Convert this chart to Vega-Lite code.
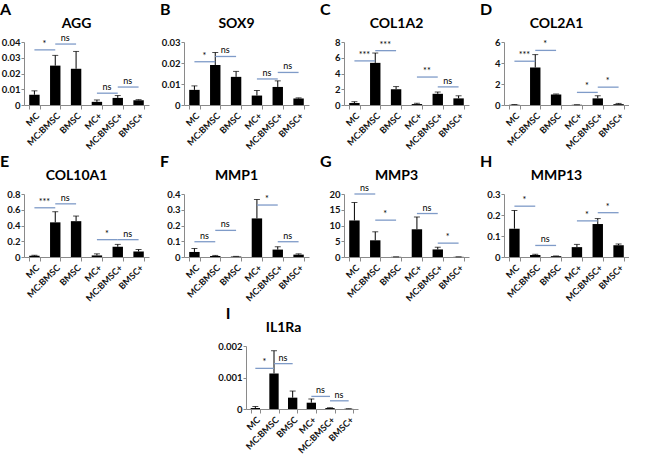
{
"$schema": "https://vega.github.io/schema/vega-lite/v6.json",
"padding": {"left": 0, "top": 2, "right": 0, "bottom": 0},
"background": "white",
"datasets": {
"bars": [
{"g":"AGG","c":"MC","y":0.0065,"e":0.009},{"g":"AGG","c":"MC:BMSC","y":0.025,"e":0.0315},{"g":"AGG","c":"BMSC","y":0.023,"e":0.034},{"g":"AGG","c":"MC+","y":0.002,"e":0.0032},{"g":"AGG","c":"MC:BMSC+","y":0.0045,"e":0.006},{"g":"AGG","c":"BMSC+","y":0.003,"e":0.0034},
{"g":"SOX9","c":"MC","y":0.0072,"e":0.0091},{"g":"SOX9","c":"MC:BMSC","y":0.019,"e":0.025},{"g":"SOX9","c":"BMSC","y":0.0134,"e":0.016},{"g":"SOX9","c":"MC+","y":0.0045,"e":0.0069},{"g":"SOX9","c":"MC:BMSC+","y":0.0086,"e":0.0115},{"g":"SOX9","c":"BMSC+","y":0.0031,"e":0.0034},
{"g":"COL1A2","c":"MC","y":0.25,"e":0.42},{"g":"COL1A2","c":"MC:BMSC","y":5.35,"e":6.6},{"g":"COL1A2","c":"BMSC","y":2.0,"e":2.34},{"g":"COL1A2","c":"MC+","y":0.12,"e":0.22},{"g":"COL1A2","c":"MC:BMSC+","y":1.42,"e":1.65},{"g":"COL1A2","c":"BMSC+","y":0.84,"e":1.17},
{"g":"COL2A1","c":"MC","y":0.03,"e":0.05},{"g":"COL2A1","c":"MC:BMSC","y":3.57,"e":4.8},{"g":"COL2A1","c":"BMSC","y":1.0,"e":1.05},{"g":"COL2A1","c":"MC+","y":0.02,"e":0.03},{"g":"COL2A1","c":"MC:BMSC+","y":0.63,"e":0.88},{"g":"COL2A1","c":"BMSC+","y":0.08,"e":0.15},
{"g":"COL10A1","c":"MC","y":0.015,"e":0.022},{"g":"COL10A1","c":"MC:BMSC","y":0.44,"e":0.575},{"g":"COL10A1","c":"BMSC","y":0.455,"e":0.52},{"g":"COL10A1","c":"MC+","y":0.02,"e":0.04},{"g":"COL10A1","c":"MC:BMSC+","y":0.13,"e":0.16},{"g":"COL10A1","c":"BMSC+","y":0.07,"e":0.095},
{"g":"MMP1","c":"MC","y":0.032,"e":0.054},{"g":"MMP1","c":"MC:BMSC","y":0.007,"e":0.01},{"g":"MMP1","c":"BMSC","y":0.003,"e":0.004},{"g":"MMP1","c":"MC+","y":0.245,"e":0.365},{"g":"MMP1","c":"MC:BMSC+","y":0.047,"e":0.065},{"g":"MMP1","c":"BMSC+","y":0.015,"e":0.02},
{"g":"MMP3","c":"MC","y":11.6,"e":17.3},{"g":"MMP3","c":"MC:BMSC","y":5.3,"e":8.0},{"g":"MMP3","c":"BMSC","y":0.05,"e":0.06},{"g":"MMP3","c":"MC+","y":8.8,"e":12.7},{"g":"MMP3","c":"MC:BMSC+","y":2.4,"e":3.1},{"g":"MMP3","c":"BMSC+","y":0.05,"e":0.06},
{"g":"MMP13","c":"MC","y":0.135,"e":0.222},{"g":"MMP13","c":"MC:BMSC","y":0.01,"e":0.013},{"g":"MMP13","c":"BMSC","y":0.004,"e":0.005},{"g":"MMP13","c":"MC+","y":0.047,"e":0.06},{"g":"MMP13","c":"MC:BMSC+","y":0.157,"e":0.183},{"g":"MMP13","c":"BMSC+","y":0.056,"e":0.062},
{"g":"IL1Ra","c":"MC","y":0.00003,"e":0.00008},{"g":"IL1Ra","c":"MC:BMSC","y":0.00113,"e":0.00185},{"g":"IL1Ra","c":"BMSC","y":0.00036,"e":0.00057},{"g":"IL1Ra","c":"MC+","y":0.0002,"e":0.00032},{"g":"IL1Ra","c":"MC:BMSC+","y":0.00003,"e":0.00004},{"g":"IL1Ra","c":"BMSC+","y":0.000005,"e":0.00001}
],
"sig": [
{"g":"AGG","c":"MC","c2":"MC:BMSC","y":0.035,"t":"*"},{"g":"AGG","c":"MC:BMSC","c2":"BMSC","y":0.0387,"t":"ns"},{"g":"AGG","c":"MC+","c2":"MC:BMSC+","y":0.0075,"t":"ns"},{"g":"AGG","c":"MC:BMSC+","c2":"BMSC+","y":0.0114,"t":"ns"},
{"g":"SOX9","c":"MC","c2":"MC:BMSC","y":0.0206,"t":"*"},{"g":"SOX9","c":"MC:BMSC","c2":"BMSC","y":0.0231,"t":"ns"},{"g":"SOX9","c":"MC+","c2":"MC:BMSC+","y":0.0124,"t":"ns"},{"g":"SOX9","c":"MC:BMSC+","c2":"BMSC+","y":0.0155,"t":"ns"},
{"g":"COL1A2","c":"MC","c2":"MC:BMSC","y":5.6,"t":"***"},{"g":"COL1A2","c":"MC:BMSC","c2":"BMSC","y":6.9,"t":"***"},{"g":"COL1A2","c":"MC+","c2":"MC:BMSC+","y":3.55,"t":"**"},{"g":"COL1A2","c":"MC:BMSC+","c2":"BMSC+","y":2.3,"t":"ns"},
{"g":"COL2A1","c":"MC","c2":"MC:BMSC","y":4.17,"t":"***"},{"g":"COL2A1","c":"MC:BMSC","c2":"BMSC","y":5.2,"t":"*"},{"g":"COL2A1","c":"MC+","c2":"MC:BMSC+","y":1.2,"t":"*"},{"g":"COL2A1","c":"MC:BMSC+","c2":"BMSC+","y":1.7,"t":"*"},
{"g":"COL10A1","c":"MC","c2":"MC:BMSC","y":0.625,"t":"***"},{"g":"COL10A1","c":"MC:BMSC","c2":"BMSC","y":0.675,"t":"ns"},{"g":"COL10A1","c":"MC+","c2":"MC:BMSC+","y":0.22,"t":"*"},{"g":"COL10A1","c":"MC:BMSC+","c2":"BMSC+","y":0.22,"t":"ns"},
{"g":"MMP1","c":"MC","c2":"MC:BMSC","y":0.097,"t":"ns"},{"g":"MMP1","c":"MC:BMSC","c2":"BMSC","y":0.169,"t":"ns"},{"g":"MMP1","c":"MC+","c2":"MC:BMSC+","y":0.33,"t":"*"},{"g":"MMP1","c":"MC:BMSC+","c2":"BMSC+","y":0.097,"t":"ns"},
{"g":"MMP3","c":"MC","c2":"MC:BMSC","y":20,"t":"ns"},{"g":"MMP3","c":"MC:BMSC","c2":"BMSC","y":11.7,"t":"*"},{"g":"MMP3","c":"MC+","c2":"MC:BMSC+","y":13.8,"t":"ns"},{"g":"MMP3","c":"MC:BMSC+","c2":"BMSC+","y":4.4,"t":"*"},
{"g":"MMP13","c":"MC","c2":"MC:BMSC","y":0.242,"t":"*"},{"g":"MMP13","c":"MC:BMSC","c2":"BMSC","y":0.055,"t":"ns"},{"g":"MMP13","c":"MC+","c2":"MC:BMSC+","y":0.172,"t":"*"},{"g":"MMP13","c":"MC:BMSC+","c2":"BMSC+","y":0.211,"t":"*"},
{"g":"IL1Ra","c":"MC","c2":"MC:BMSC","y":0.00129,"t":"*"},{"g":"IL1Ra","c":"MC:BMSC","c2":"BMSC","y":0.00144,"t":"ns"},{"g":"IL1Ra","c":"MC+","c2":"MC:BMSC+","y":0.0004,"t":"ns"},{"g":"IL1Ra","c":"MC:BMSC+","c2":"BMSC+","y":0.00026,"t":"ns"}
]
},
"config": {
"view": {"stroke": null},
"font": "Lato",
"title": {"font": "Lato", "fontWeight": "bold", "fontSize": 16, "anchor": "start", "offset": -2, "color": "#000"},
"axis": {"grid": false, "domainColor": "#8a8a8a", "tickColor": "#8a8a8a", "labelFont": "Lato", "labelFontWeight": "bold", "labelColor": "#111"},
"axisY": {"tickSize": 3, "labelFontSize": 9.5, "format": "~g", "labelPadding": 1, "minExtent": 24, "maxExtent": 24},
"axisX": {"labelAngle": -45, "labelFontSize": 9, "tickBand": "extent", "tickSize": 4, "labelPadding": 2},
"axisTop": {"labels": false, "ticks": false, "domain": false, "titleFont": "Lato", "titleFontSize": 14, "titleFontWeight": "bold", "titleColor": "#000", "titlePadding": 12, "titleX": 52},
"bar": {"color": "#000"},
"concat": {"spacing": 11}
},
"spacing": 3,
"vconcat": [
{"hconcat": [
{"title": {"text": "A"}, "width": 125, "height": 63, "resolve": {"axis": {"x": "independent"}},
 "encoding": {"x": {"field": "c", "type": "nominal", "scale": {"domain": ["MC","MC:BMSC","BMSC","MC+","MC:BMSC+","BMSC+"], "paddingInner": 0.5, "paddingOuter": 0.25}, "axis": null}},
 "layer": [
  {"data": {"name": "bars"}, "transform": [{"filter": "datum.g == 'AGG'"}], "mark": {"type": "bar"}, "encoding": {"x": {"field": "c", "type": "nominal", "scale": {"domain": ["MC","MC:BMSC","BMSC","MC+","MC:BMSC+","BMSC+"], "paddingInner": 0.5, "paddingOuter": 0.25}, "axis": {"title": null}}, "y": {"field": "y", "type": "quantitative", "scale": {"domain": [0, 0.04], "nice": false}, "axis": {"title": null, "values": [0, 0.01, 0.02, 0.03, 0.04]}}}},
  {"data": {"name": "bars"}, "transform": [{"filter": "datum.g == 'AGG'"}], "mark": {"type": "rule", "color": "#000"}, "encoding": {"y": {"field": "y", "type": "quantitative", "scale": {"domain": [0, 0.04], "nice": false}, "axis": {"title": null, "values": [0, 0.01, 0.02, 0.03, 0.04]}}, "y2": {"field": "e"}}},
  {"data": {"name": "bars"}, "transform": [{"filter": "datum.g == 'AGG'"}], "mark": {"type": "tick", "color": "#000", "thickness": 1, "size": 6}, "encoding": {"y": {"field": "e", "type": "quantitative", "scale": {"domain": [0, 0.04], "nice": false}, "axis": {"title": null, "values": [0, 0.01, 0.02, 0.03, 0.04]}}}},
  {"data": {"name": "sig"}, "transform": [{"filter": "datum.g == 'AGG'"}], "mark": {"type": "rule", "color": "#7F9BC8", "strokeWidth": 1.3}, "encoding": {"x2": {"field": "c2"}, "y": {"field": "y", "type": "quantitative", "scale": {"domain": [0, 0.04], "nice": false}, "axis": {"title": null, "values": [0, 0.01, 0.02, 0.03, 0.04]}}}},
  {"data": {"name": "sig"}, "transform": [{"filter": "datum.g == 'AGG'"}], "mark": {"type": "text", "dx": 10, "dy": -1, "baseline": "bottom", "fontSize": 9, "font": "Lato"}, "encoding": {"x": {"field": "c", "type": "nominal", "scale": {"domain": ["MC","MC:BMSC","BMSC","MC+","MC:BMSC+","BMSC+"], "paddingInner": 0.5, "paddingOuter": 0.25}, "axis": {"orient": "top", "title": "AGG"}}, "text": {"field": "t"}, "y": {"field": "y", "type": "quantitative", "scale": {"domain": [0, 0.04], "nice": false}, "axis": {"title": null, "values": [0, 0.01, 0.02, 0.03, 0.04]}}}}
 ]},
{"title": {"text": "B"}, "width": 125, "height": 63, "resolve": {"axis": {"x": "independent"}},
 "encoding": {"x": {"field": "c", "type": "nominal", "scale": {"domain": ["MC","MC:BMSC","BMSC","MC+","MC:BMSC+","BMSC+"], "paddingInner": 0.5, "paddingOuter": 0.25}, "axis": null}},
 "layer": [
  {"data": {"name": "bars"}, "transform": [{"filter": "datum.g == 'SOX9'"}], "mark": {"type": "bar"}, "encoding": {"x": {"field": "c", "type": "nominal", "scale": {"domain": ["MC","MC:BMSC","BMSC","MC+","MC:BMSC+","BMSC+"], "paddingInner": 0.5, "paddingOuter": 0.25}, "axis": {"title": null}}, "y": {"field": "y", "type": "quantitative", "scale": {"domain": [0, 0.03], "nice": false}, "axis": {"title": null, "values": [0, 0.01, 0.02, 0.03]}}}},
  {"data": {"name": "bars"}, "transform": [{"filter": "datum.g == 'SOX9'"}], "mark": {"type": "rule", "color": "#000"}, "encoding": {"y": {"field": "y", "type": "quantitative", "scale": {"domain": [0, 0.03], "nice": false}, "axis": {"title": null, "values": [0, 0.01, 0.02, 0.03]}}, "y2": {"field": "e"}}},
  {"data": {"name": "bars"}, "transform": [{"filter": "datum.g == 'SOX9'"}], "mark": {"type": "tick", "color": "#000", "thickness": 1, "size": 6}, "encoding": {"y": {"field": "e", "type": "quantitative", "scale": {"domain": [0, 0.03], "nice": false}, "axis": {"title": null, "values": [0, 0.01, 0.02, 0.03]}}}},
  {"data": {"name": "sig"}, "transform": [{"filter": "datum.g == 'SOX9'"}], "mark": {"type": "rule", "color": "#7F9BC8", "strokeWidth": 1.3}, "encoding": {"x2": {"field": "c2"}, "y": {"field": "y", "type": "quantitative", "scale": {"domain": [0, 0.03], "nice": false}, "axis": {"title": null, "values": [0, 0.01, 0.02, 0.03]}}}},
  {"data": {"name": "sig"}, "transform": [{"filter": "datum.g == 'SOX9'"}], "mark": {"type": "text", "dx": 10, "dy": -1, "baseline": "bottom", "fontSize": 9, "font": "Lato"}, "encoding": {"x": {"field": "c", "type": "nominal", "scale": {"domain": ["MC","MC:BMSC","BMSC","MC+","MC:BMSC+","BMSC+"], "paddingInner": 0.5, "paddingOuter": 0.25}, "axis": {"orient": "top", "title": "SOX9"}}, "text": {"field": "t"}, "y": {"field": "y", "type": "quantitative", "scale": {"domain": [0, 0.03], "nice": false}, "axis": {"title": null, "values": [0, 0.01, 0.02, 0.03]}}}}
 ]},
{"title": {"text": "C"}, "width": 125, "height": 63, "resolve": {"axis": {"x": "independent"}},
 "encoding": {"x": {"field": "c", "type": "nominal", "scale": {"domain": ["MC","MC:BMSC","BMSC","MC+","MC:BMSC+","BMSC+"], "paddingInner": 0.5, "paddingOuter": 0.25}, "axis": null}},
 "layer": [
  {"data": {"name": "bars"}, "transform": [{"filter": "datum.g == 'COL1A2'"}], "mark": {"type": "bar"}, "encoding": {"x": {"field": "c", "type": "nominal", "scale": {"domain": ["MC","MC:BMSC","BMSC","MC+","MC:BMSC+","BMSC+"], "paddingInner": 0.5, "paddingOuter": 0.25}, "axis": {"title": null}}, "y": {"field": "y", "type": "quantitative", "scale": {"domain": [0, 8], "nice": false}, "axis": {"title": null, "values": [0, 2, 4, 6, 8]}}}},
  {"data": {"name": "bars"}, "transform": [{"filter": "datum.g == 'COL1A2'"}], "mark": {"type": "rule", "color": "#000"}, "encoding": {"y": {"field": "y", "type": "quantitative", "scale": {"domain": [0, 8], "nice": false}, "axis": {"title": null, "values": [0, 2, 4, 6, 8]}}, "y2": {"field": "e"}}},
  {"data": {"name": "bars"}, "transform": [{"filter": "datum.g == 'COL1A2'"}], "mark": {"type": "tick", "color": "#000", "thickness": 1, "size": 6}, "encoding": {"y": {"field": "e", "type": "quantitative", "scale": {"domain": [0, 8], "nice": false}, "axis": {"title": null, "values": [0, 2, 4, 6, 8]}}}},
  {"data": {"name": "sig"}, "transform": [{"filter": "datum.g == 'COL1A2'"}], "mark": {"type": "rule", "color": "#7F9BC8", "strokeWidth": 1.3}, "encoding": {"x2": {"field": "c2"}, "y": {"field": "y", "type": "quantitative", "scale": {"domain": [0, 8], "nice": false}, "axis": {"title": null, "values": [0, 2, 4, 6, 8]}}}},
  {"data": {"name": "sig"}, "transform": [{"filter": "datum.g == 'COL1A2'"}], "mark": {"type": "text", "dx": 10, "dy": -1, "baseline": "bottom", "fontSize": 9, "font": "Lato"}, "encoding": {"x": {"field": "c", "type": "nominal", "scale": {"domain": ["MC","MC:BMSC","BMSC","MC+","MC:BMSC+","BMSC+"], "paddingInner": 0.5, "paddingOuter": 0.25}, "axis": {"orient": "top", "title": "COL1A2"}}, "text": {"field": "t"}, "y": {"field": "y", "type": "quantitative", "scale": {"domain": [0, 8], "nice": false}, "axis": {"title": null, "values": [0, 2, 4, 6, 8]}}}}
 ]},
{"title": {"text": "D"}, "width": 125, "height": 63, "resolve": {"axis": {"x": "independent"}},
 "encoding": {"x": {"field": "c", "type": "nominal", "scale": {"domain": ["MC","MC:BMSC","BMSC","MC+","MC:BMSC+","BMSC+"], "paddingInner": 0.5, "paddingOuter": 0.25}, "axis": null}},
 "layer": [
  {"data": {"name": "bars"}, "transform": [{"filter": "datum.g == 'COL2A1'"}], "mark": {"type": "bar"}, "encoding": {"x": {"field": "c", "type": "nominal", "scale": {"domain": ["MC","MC:BMSC","BMSC","MC+","MC:BMSC+","BMSC+"], "paddingInner": 0.5, "paddingOuter": 0.25}, "axis": {"title": null}}, "y": {"field": "y", "type": "quantitative", "scale": {"domain": [0, 6], "nice": false}, "axis": {"title": null, "values": [0, 2, 4, 6]}}}},
  {"data": {"name": "bars"}, "transform": [{"filter": "datum.g == 'COL2A1'"}], "mark": {"type": "rule", "color": "#000"}, "encoding": {"y": {"field": "y", "type": "quantitative", "scale": {"domain": [0, 6], "nice": false}, "axis": {"title": null, "values": [0, 2, 4, 6]}}, "y2": {"field": "e"}}},
  {"data": {"name": "bars"}, "transform": [{"filter": "datum.g == 'COL2A1'"}], "mark": {"type": "tick", "color": "#000", "thickness": 1, "size": 6}, "encoding": {"y": {"field": "e", "type": "quantitative", "scale": {"domain": [0, 6], "nice": false}, "axis": {"title": null, "values": [0, 2, 4, 6]}}}},
  {"data": {"name": "sig"}, "transform": [{"filter": "datum.g == 'COL2A1'"}], "mark": {"type": "rule", "color": "#7F9BC8", "strokeWidth": 1.3}, "encoding": {"x2": {"field": "c2"}, "y": {"field": "y", "type": "quantitative", "scale": {"domain": [0, 6], "nice": false}, "axis": {"title": null, "values": [0, 2, 4, 6]}}}},
  {"data": {"name": "sig"}, "transform": [{"filter": "datum.g == 'COL2A1'"}], "mark": {"type": "text", "dx": 10, "dy": -1, "baseline": "bottom", "fontSize": 9, "font": "Lato"}, "encoding": {"x": {"field": "c", "type": "nominal", "scale": {"domain": ["MC","MC:BMSC","BMSC","MC+","MC:BMSC+","BMSC+"], "paddingInner": 0.5, "paddingOuter": 0.25}, "axis": {"orient": "top", "title": "COL2A1"}}, "text": {"field": "t"}, "y": {"field": "y", "type": "quantitative", "scale": {"domain": [0, 6], "nice": false}, "axis": {"title": null, "values": [0, 2, 4, 6]}}}}
 ]}
]},
{"hconcat": [
{"title": {"text": "E"}, "width": 125, "height": 63, "resolve": {"axis": {"x": "independent"}},
 "encoding": {"x": {"field": "c", "type": "nominal", "scale": {"domain": ["MC","MC:BMSC","BMSC","MC+","MC:BMSC+","BMSC+"], "paddingInner": 0.5, "paddingOuter": 0.25}, "axis": null}},
 "layer": [
  {"data": {"name": "bars"}, "transform": [{"filter": "datum.g == 'COL10A1'"}], "mark": {"type": "bar"}, "encoding": {"x": {"field": "c", "type": "nominal", "scale": {"domain": ["MC","MC:BMSC","BMSC","MC+","MC:BMSC+","BMSC+"], "paddingInner": 0.5, "paddingOuter": 0.25}, "axis": {"title": null}}, "y": {"field": "y", "type": "quantitative", "scale": {"domain": [0, 0.8], "nice": false}, "axis": {"title": null, "values": [0, 0.2, 0.4, 0.6, 0.8]}}}},
  {"data": {"name": "bars"}, "transform": [{"filter": "datum.g == 'COL10A1'"}], "mark": {"type": "rule", "color": "#000"}, "encoding": {"y": {"field": "y", "type": "quantitative", "scale": {"domain": [0, 0.8], "nice": false}, "axis": {"title": null, "values": [0, 0.2, 0.4, 0.6, 0.8]}}, "y2": {"field": "e"}}},
  {"data": {"name": "bars"}, "transform": [{"filter": "datum.g == 'COL10A1'"}], "mark": {"type": "tick", "color": "#000", "thickness": 1, "size": 6}, "encoding": {"y": {"field": "e", "type": "quantitative", "scale": {"domain": [0, 0.8], "nice": false}, "axis": {"title": null, "values": [0, 0.2, 0.4, 0.6, 0.8]}}}},
  {"data": {"name": "sig"}, "transform": [{"filter": "datum.g == 'COL10A1'"}], "mark": {"type": "rule", "color": "#7F9BC8", "strokeWidth": 1.3}, "encoding": {"x2": {"field": "c2"}, "y": {"field": "y", "type": "quantitative", "scale": {"domain": [0, 0.8], "nice": false}, "axis": {"title": null, "values": [0, 0.2, 0.4, 0.6, 0.8]}}}},
  {"data": {"name": "sig"}, "transform": [{"filter": "datum.g == 'COL10A1'"}], "mark": {"type": "text", "dx": 10, "dy": -1, "baseline": "bottom", "fontSize": 9, "font": "Lato"}, "encoding": {"x": {"field": "c", "type": "nominal", "scale": {"domain": ["MC","MC:BMSC","BMSC","MC+","MC:BMSC+","BMSC+"], "paddingInner": 0.5, "paddingOuter": 0.25}, "axis": {"orient": "top", "title": "COL10A1"}}, "text": {"field": "t"}, "y": {"field": "y", "type": "quantitative", "scale": {"domain": [0, 0.8], "nice": false}, "axis": {"title": null, "values": [0, 0.2, 0.4, 0.6, 0.8]}}}}
 ]},
{"title": {"text": "F"}, "width": 125, "height": 63, "resolve": {"axis": {"x": "independent"}},
 "encoding": {"x": {"field": "c", "type": "nominal", "scale": {"domain": ["MC","MC:BMSC","BMSC","MC+","MC:BMSC+","BMSC+"], "paddingInner": 0.5, "paddingOuter": 0.25}, "axis": null}},
 "layer": [
  {"data": {"name": "bars"}, "transform": [{"filter": "datum.g == 'MMP1'"}], "mark": {"type": "bar"}, "encoding": {"x": {"field": "c", "type": "nominal", "scale": {"domain": ["MC","MC:BMSC","BMSC","MC+","MC:BMSC+","BMSC+"], "paddingInner": 0.5, "paddingOuter": 0.25}, "axis": {"title": null}}, "y": {"field": "y", "type": "quantitative", "scale": {"domain": [0, 0.4], "nice": false}, "axis": {"title": null, "values": [0, 0.1, 0.2, 0.3, 0.4]}}}},
  {"data": {"name": "bars"}, "transform": [{"filter": "datum.g == 'MMP1'"}], "mark": {"type": "rule", "color": "#000"}, "encoding": {"y": {"field": "y", "type": "quantitative", "scale": {"domain": [0, 0.4], "nice": false}, "axis": {"title": null, "values": [0, 0.1, 0.2, 0.3, 0.4]}}, "y2": {"field": "e"}}},
  {"data": {"name": "bars"}, "transform": [{"filter": "datum.g == 'MMP1'"}], "mark": {"type": "tick", "color": "#000", "thickness": 1, "size": 6}, "encoding": {"y": {"field": "e", "type": "quantitative", "scale": {"domain": [0, 0.4], "nice": false}, "axis": {"title": null, "values": [0, 0.1, 0.2, 0.3, 0.4]}}}},
  {"data": {"name": "sig"}, "transform": [{"filter": "datum.g == 'MMP1'"}], "mark": {"type": "rule", "color": "#7F9BC8", "strokeWidth": 1.3}, "encoding": {"x2": {"field": "c2"}, "y": {"field": "y", "type": "quantitative", "scale": {"domain": [0, 0.4], "nice": false}, "axis": {"title": null, "values": [0, 0.1, 0.2, 0.3, 0.4]}}}},
  {"data": {"name": "sig"}, "transform": [{"filter": "datum.g == 'MMP1'"}], "mark": {"type": "text", "dx": 10, "dy": -1, "baseline": "bottom", "fontSize": 9, "font": "Lato"}, "encoding": {"x": {"field": "c", "type": "nominal", "scale": {"domain": ["MC","MC:BMSC","BMSC","MC+","MC:BMSC+","BMSC+"], "paddingInner": 0.5, "paddingOuter": 0.25}, "axis": {"orient": "top", "title": "MMP1"}}, "text": {"field": "t"}, "y": {"field": "y", "type": "quantitative", "scale": {"domain": [0, 0.4], "nice": false}, "axis": {"title": null, "values": [0, 0.1, 0.2, 0.3, 0.4]}}}}
 ]},
{"title": {"text": "G"}, "width": 125, "height": 63, "resolve": {"axis": {"x": "independent"}},
 "encoding": {"x": {"field": "c", "type": "nominal", "scale": {"domain": ["MC","MC:BMSC","BMSC","MC+","MC:BMSC+","BMSC+"], "paddingInner": 0.5, "paddingOuter": 0.25}, "axis": null}},
 "layer": [
  {"data": {"name": "bars"}, "transform": [{"filter": "datum.g == 'MMP3'"}], "mark": {"type": "bar"}, "encoding": {"x": {"field": "c", "type": "nominal", "scale": {"domain": ["MC","MC:BMSC","BMSC","MC+","MC:BMSC+","BMSC+"], "paddingInner": 0.5, "paddingOuter": 0.25}, "axis": {"title": null}}, "y": {"field": "y", "type": "quantitative", "scale": {"domain": [0, 20], "nice": false}, "axis": {"title": null, "values": [0, 5, 10, 15, 20]}}}},
  {"data": {"name": "bars"}, "transform": [{"filter": "datum.g == 'MMP3'"}], "mark": {"type": "rule", "color": "#000"}, "encoding": {"y": {"field": "y", "type": "quantitative", "scale": {"domain": [0, 20], "nice": false}, "axis": {"title": null, "values": [0, 5, 10, 15, 20]}}, "y2": {"field": "e"}}},
  {"data": {"name": "bars"}, "transform": [{"filter": "datum.g == 'MMP3'"}], "mark": {"type": "tick", "color": "#000", "thickness": 1, "size": 6}, "encoding": {"y": {"field": "e", "type": "quantitative", "scale": {"domain": [0, 20], "nice": false}, "axis": {"title": null, "values": [0, 5, 10, 15, 20]}}}},
  {"data": {"name": "sig"}, "transform": [{"filter": "datum.g == 'MMP3'"}], "mark": {"type": "rule", "color": "#7F9BC8", "strokeWidth": 1.3}, "encoding": {"x2": {"field": "c2"}, "y": {"field": "y", "type": "quantitative", "scale": {"domain": [0, 20], "nice": false}, "axis": {"title": null, "values": [0, 5, 10, 15, 20]}}}},
  {"data": {"name": "sig"}, "transform": [{"filter": "datum.g == 'MMP3'"}], "mark": {"type": "text", "dx": 10, "dy": -1, "baseline": "bottom", "fontSize": 9, "font": "Lato"}, "encoding": {"x": {"field": "c", "type": "nominal", "scale": {"domain": ["MC","MC:BMSC","BMSC","MC+","MC:BMSC+","BMSC+"], "paddingInner": 0.5, "paddingOuter": 0.25}, "axis": {"orient": "top", "title": "MMP3"}}, "text": {"field": "t"}, "y": {"field": "y", "type": "quantitative", "scale": {"domain": [0, 20], "nice": false}, "axis": {"title": null, "values": [0, 5, 10, 15, 20]}}}}
 ]},
{"title": {"text": "H"}, "width": 125, "height": 63, "resolve": {"axis": {"x": "independent"}},
 "encoding": {"x": {"field": "c", "type": "nominal", "scale": {"domain": ["MC","MC:BMSC","BMSC","MC+","MC:BMSC+","BMSC+"], "paddingInner": 0.5, "paddingOuter": 0.25}, "axis": null}},
 "layer": [
  {"data": {"name": "bars"}, "transform": [{"filter": "datum.g == 'MMP13'"}], "mark": {"type": "bar"}, "encoding": {"x": {"field": "c", "type": "nominal", "scale": {"domain": ["MC","MC:BMSC","BMSC","MC+","MC:BMSC+","BMSC+"], "paddingInner": 0.5, "paddingOuter": 0.25}, "axis": {"title": null}}, "y": {"field": "y", "type": "quantitative", "scale": {"domain": [0, 0.3], "nice": false}, "axis": {"title": null, "values": [0, 0.1, 0.2, 0.3]}}}},
  {"data": {"name": "bars"}, "transform": [{"filter": "datum.g == 'MMP13'"}], "mark": {"type": "rule", "color": "#000"}, "encoding": {"y": {"field": "y", "type": "quantitative", "scale": {"domain": [0, 0.3], "nice": false}, "axis": {"title": null, "values": [0, 0.1, 0.2, 0.3]}}, "y2": {"field": "e"}}},
  {"data": {"name": "bars"}, "transform": [{"filter": "datum.g == 'MMP13'"}], "mark": {"type": "tick", "color": "#000", "thickness": 1, "size": 6}, "encoding": {"y": {"field": "e", "type": "quantitative", "scale": {"domain": [0, 0.3], "nice": false}, "axis": {"title": null, "values": [0, 0.1, 0.2, 0.3]}}}},
  {"data": {"name": "sig"}, "transform": [{"filter": "datum.g == 'MMP13'"}], "mark": {"type": "rule", "color": "#7F9BC8", "strokeWidth": 1.3}, "encoding": {"x2": {"field": "c2"}, "y": {"field": "y", "type": "quantitative", "scale": {"domain": [0, 0.3], "nice": false}, "axis": {"title": null, "values": [0, 0.1, 0.2, 0.3]}}}},
  {"data": {"name": "sig"}, "transform": [{"filter": "datum.g == 'MMP13'"}], "mark": {"type": "text", "dx": 10, "dy": -1, "baseline": "bottom", "fontSize": 9, "font": "Lato"}, "encoding": {"x": {"field": "c", "type": "nominal", "scale": {"domain": ["MC","MC:BMSC","BMSC","MC+","MC:BMSC+","BMSC+"], "paddingInner": 0.5, "paddingOuter": 0.25}, "axis": {"orient": "top", "title": "MMP13"}}, "text": {"field": "t"}, "y": {"field": "y", "type": "quantitative", "scale": {"domain": [0, 0.3], "nice": false}, "axis": {"title": null, "values": [0, 0.1, 0.2, 0.3]}}}}
 ]}
]},
{"hconcat": [
{"width": 182, "height": 10, "data": {"values": []}, "mark": {"type": "point"}},
{"title": {"text": "I", "dx": 8}, "width": 112, "height": 63, "resolve": {"axis": {"x": "independent"}},
 "encoding": {"x": {"field": "c", "type": "nominal", "scale": {"domain": ["MC","MC:BMSC","BMSC","MC+","MC:BMSC+","BMSC+"], "paddingInner": 0.5, "paddingOuter": 0.25}, "axis": null}},
 "layer": [
  {"data": {"name": "bars"}, "transform": [{"filter": "datum.g == 'IL1Ra'"}], "mark": {"type": "bar"}, "encoding": {"x": {"field": "c", "type": "nominal", "scale": {"domain": ["MC","MC:BMSC","BMSC","MC+","MC:BMSC+","BMSC+"], "paddingInner": 0.5, "paddingOuter": 0.25}, "axis": {"title": null}}, "y": {"field": "y", "type": "quantitative", "scale": {"domain": [0, 0.002], "nice": false}, "axis": {"title": null, "values": [0, 0.001, 0.002]}}}},
  {"data": {"name": "bars"}, "transform": [{"filter": "datum.g == 'IL1Ra'"}], "mark": {"type": "rule", "color": "#000"}, "encoding": {"y": {"field": "y", "type": "quantitative", "scale": {"domain": [0, 0.002], "nice": false}, "axis": {"title": null, "values": [0, 0.001, 0.002]}}, "y2": {"field": "e"}}},
  {"data": {"name": "bars"}, "transform": [{"filter": "datum.g == 'IL1Ra'"}], "mark": {"type": "tick", "color": "#000", "thickness": 1, "size": 6}, "encoding": {"y": {"field": "e", "type": "quantitative", "scale": {"domain": [0, 0.002], "nice": false}, "axis": {"title": null, "values": [0, 0.001, 0.002]}}}},
  {"data": {"name": "sig"}, "transform": [{"filter": "datum.g == 'IL1Ra'"}], "mark": {"type": "rule", "color": "#7F9BC8", "strokeWidth": 1.3}, "encoding": {"x2": {"field": "c2"}, "y": {"field": "y", "type": "quantitative", "scale": {"domain": [0, 0.002], "nice": false}, "axis": {"title": null, "values": [0, 0.001, 0.002]}}}},
  {"data": {"name": "sig"}, "transform": [{"filter": "datum.g == 'IL1Ra'"}], "mark": {"type": "text", "dx": 9, "dy": -1, "baseline": "bottom", "fontSize": 9, "font": "Lato"}, "encoding": {"x": {"field": "c", "type": "nominal", "scale": {"domain": ["MC","MC:BMSC","BMSC","MC+","MC:BMSC+","BMSC+"], "paddingInner": 0.5, "paddingOuter": 0.25}, "axis": {"orient": "top", "title": "IL1Ra", "titleX": 37}}, "text": {"field": "t"}, "y": {"field": "y", "type": "quantitative", "scale": {"domain": [0, 0.002], "nice": false}, "axis": {"title": null, "values": [0, 0.001, 0.002]}}}}
 ]}
]}
]
}
